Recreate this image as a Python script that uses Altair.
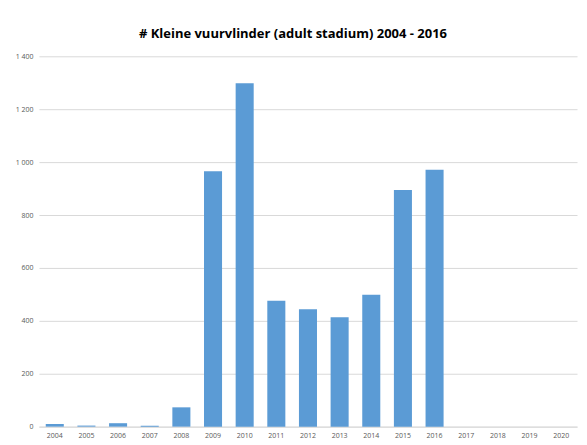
import altair as alt
import pandas as pd

years = [str(y) for y in range(2004, 2021)]
counts = [10, 4, 13, 3, 73, 965, 1298, 476, 444, 414, 499, 895, 971, None, None, None, None]

df = pd.DataFrame({"jaar": years, "aantal": counts})

bars = alt.Chart(df).mark_bar(color="#5b9bd5").encode(
    x=alt.X(
        "jaar:N",
        sort=years,
        title=None,
        scale=alt.Scale(paddingInner=0.43, paddingOuter=0.215),
        axis=alt.Axis(
            labelAngle=0,
            labelFont="Open Sans",
            labelFontSize=7,
            labelColor="#595959",
            labelPadding=5,
            ticks=False,
            domainColor="#d9d9d9",
            domainWidth=1,
            grid=False,
        ),
    ),
    y=alt.Y(
        "aantal:Q",
        title=None,
        scale=alt.Scale(domain=[0, 1400], nice=False),
        axis=alt.Axis(
            values=[0, 200, 400, 600, 800, 1000, 1200, 1400],
            labelExpr="replace(format(datum.value, ','), ',', ' ')",
            labelFont="Open Sans",
            labelFontSize=7,
            labelColor="#595959",
            labelPadding=6,
            ticks=False,
            domain=False,
            gridColor="#d9d9d9",
            gridWidth=1,
        ),
    ),
)

chart = bars.properties(
    width=539,
    height=371,
    title=alt.TitleParams(
        "# Kleine vuurvlinder (adult stadium) 2004 - 2016",
        font="Open Sans",
        fontSize=13,
        fontWeight="bold",
        color="#000000",
        offset=11,
        dx=-15,
    ),
    padding={"left": 31, "top": 48, "right": 2, "bottom": 16},
    autosize=alt.AutoSizeParams(type="none"),
).configure_view(stroke=None)

chart.save("out.html", embed_options={"renderer": "svg", "actions": False})
